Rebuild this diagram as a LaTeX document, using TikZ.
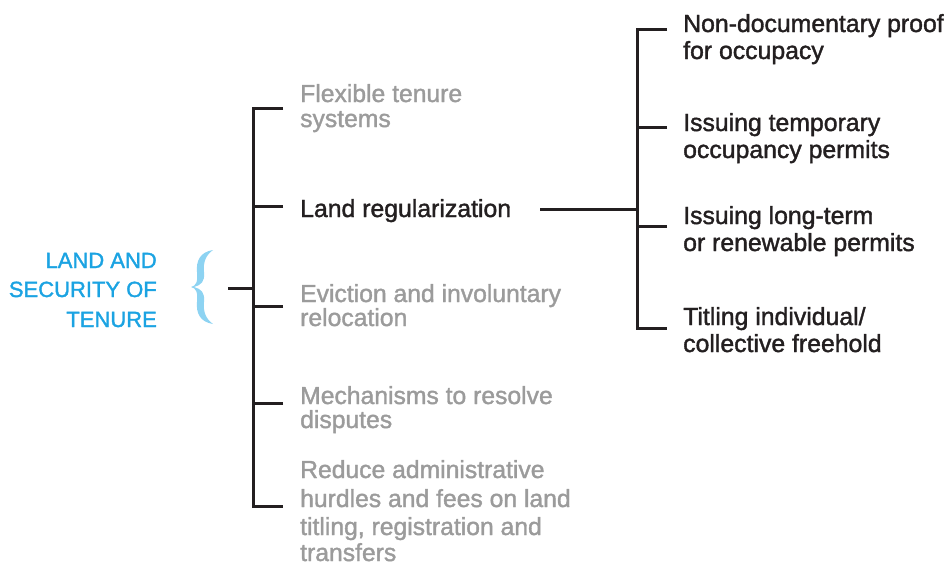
\documentclass[tikz,border=0pt]{standalone}
\usepackage{fontspec}
\setmainfont{Liberation Sans}[BoldFont={Liberation Sans},BoldFeatures={FakeBold=1.5}]
\definecolor{dk}{HTML}{231F20}
\definecolor{gr}{HTML}{9B9B9B}
\definecolor{bl}{HTML}{1BA3E2}
\definecolor{lb}{HTML}{8DD3F2}
\tikzset{
  ln/.style={draw=dk,line width=3pt},
  grt/.style={anchor=base west,inner sep=0pt,text=gr,font=\fontsize{24.7}{28}\selectfont\bfseries},
  dkt/.style={anchor=base west,inner sep=0pt,text=dk,font=\fontsize{24.8}{28}\selectfont\bfseries},
  blt/.style={anchor=base east,inner sep=0pt,text=bl,font=\fontsize{22}{29}\selectfont\bfseries},
}
\begin{document}
\begin{tikzpicture}[x=1pt,y=-1pt]
\useasboundingbox (0,0) rectangle (952,566);
% root title
\node[blt] (t1) at (157,268) {LAND AND};
\node[blt] (t2) at (157,297) {SECURITY OF};
\node[blt] (t3) at (157,327) {TENURE};
% brace
\fill[lb] (213,250) .. controls (200,252) and (196,261) .. (197,272)
  .. controls (198,282) and (196,286) .. (191,287)
  .. controls (196,288) and (198,292) .. (197,302)
  .. controls (196,313) and (200,322) .. (213,324)
  .. controls (206,319) and (203,312) .. (204,302)
  .. controls (205,292) and (201,289) .. (194,287)
  .. controls (201,285) and (205,282) .. (204,272)
  .. controls (203,262) and (206,255) .. (213,250) -- cycle;
% left level items
\node[grt] (a1) at (300,102) {Flexible tenure};
\node[grt] (a2) at (300,127) {systems};
\node[dkt] (b1) at (300,217) {Land regularization};
\node[grt] (c1) at (300,302) {Eviction and involuntary};
\node[grt] (c2) at (300,326) {relocation};
\node[grt] (d1) at (300,404) {Mechanisms to resolve};
\node[grt] (d2) at (300,428) {disputes};
\node[grt] (e1) at (300,478) {Reduce administrative};
\node[grt] (e2) at (300,507) {hurdles and fees on land};
\node[grt] (e3) at (300,535) {titling, registration and};
\node[grt] (e4) at (300,561) {transfers};
% right level items
\node[dkt] (p1) at (683,32) {Non-documentary proof};
\node[dkt] (p2) at (683,59) {for occupacy};
\node[dkt] (q1) at (683,131) {Issuing temporary};
\node[dkt] (q2) at (683,158) {occupancy permits};
\node[dkt] (r1) at (683,224) {Issuing long-term};
\node[dkt] (r2) at (683,251) {or renewable permits};
\node[dkt] (s1) at (683,325) {Titling individual/};
\node[dkt] (s2) at (683,352) {collective freehold};
% connector coordinates
\coordinate (br) at (228,288);
\coordinate (lt) at (253,288);
\coordinate (la) at (283,108);
\coordinate (lb) at (283,206);
\coordinate (lc) at (283,306);
\coordinate (ld) at (283,403);
\coordinate (le) at (283,506);
\coordinate (bs) at (540,209);
\coordinate (rt) at (637,209);
\coordinate (rp) at (667,29);
\coordinate (rq) at (667,127);
\coordinate (rr) at (667,226);
\coordinate (rs) at (667,328);
% left tree
\draw[ln] (br) -- (lt);
\draw[ln] (la) -- (253,108) -- (253,506) -- (le);
\draw[ln] (lb) -- (253,206);
\draw[ln] (lc) -- (253,306);
\draw[ln] (ld) -- (253,403);
% right tree
\draw[ln] (bs) -- (rt);
\draw[ln] (rp) -- (637,29) -- (637,328) -- (rs);
\draw[ln] (rq) -- (637,127);
\draw[ln] (rr) -- (637,226);
\end{tikzpicture}
\end{document}
